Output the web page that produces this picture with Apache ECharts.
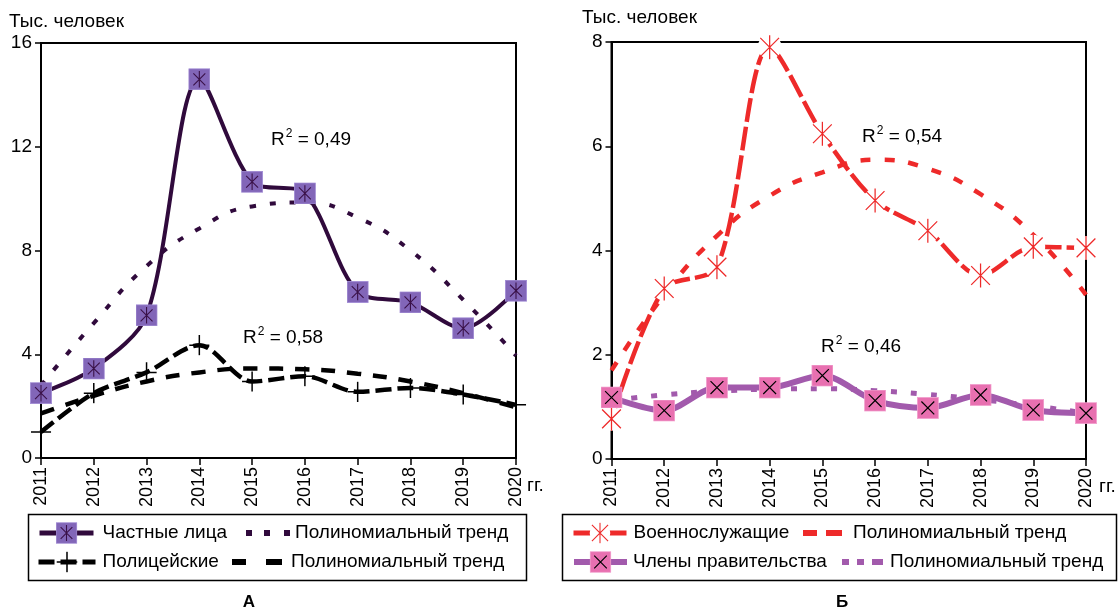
<!DOCTYPE html>
<html><head><meta charset="utf-8">
<script src="https://cdn.jsdelivr.net/npm/echarts@6/dist/echarts.min.js"></script>
<style>html,body{margin:0;padding:0;background:#fff}#c{width:1120px;height:610px}</style>
</head><body><div id="c"></div>
<script>
// ---- data ----
const years = ['2011','2012','2013','2014','2015','2016','2017','2018','2019','2020'];
const privatePersons = [2.5, 3.45, 5.5, 14.6, 10.65, 10.2, 6.4, 6.0, 5.0, 6.45];
const privateTrend   = [2.8, 5.2, 7.4, 8.85, 9.7, 9.85, 9.27, 8.0, 6.1, 3.95];
const police         = [1.0, 2.5, 3.3, 4.35, 2.95, 3.15, 2.55, 2.7, 2.45, 2.05];
const policeTrend    = [1.72, 2.4, 2.95, 3.3, 3.45, 3.42, 3.25, 2.95, 2.5, 1.95];
const military       = [0.77, 3.27, 3.68, 7.9, 6.24, 4.96, 4.38, 3.52, 4.07, 4.05];
const militaryTrend  = [1.7, 3.15, 4.28, 5.05, 5.5, 5.74, 5.57, 5.08, 4.3, 3.15];
const officials      = [1.18, 0.93, 1.37, 1.37, 1.6, 1.12, 0.98, 1.23, 0.94, 0.88];
const officialsTrend = [1.12, 1.23, 1.3, 1.34, 1.35, 1.31, 1.24, 1.14, 1.02, 0.88];
const r2Labels = ['0,49', '0,58', '0,54', '0,46'];

const FONT = "'Liberation Sans', Arial, sans-serif";
const TREND = 'Полиномиальный тренд';

function svgSym(body) {
  return 'image://data:image/svg+xml;charset=utf-8,' + encodeURIComponent(
    "<svg xmlns='http://www.w3.org/2000/svg' width='48' height='48' viewBox='0 0 24 24'>" + body + "</svg>");
}
const symPrivate = svgSym("<rect x='0.5' y='0.5' width='23' height='23' fill='#8266b8' stroke='#a38ed6' stroke-width='1'/><path d='M12 3V21M5.5 5.5L18.5 18.5M18.5 5.5L5.5 18.5' stroke='#3a1148' stroke-width='1.2' fill='none'/>");
const symPolice = svgSym("<path d='M12 0.5V23.5M0.5 12H23.5' stroke='#000' stroke-width='1.7' fill='none'/>");
const symMilitary = svgSym("<circle cx='12' cy='12' r='11.5' fill='#fff'/><path d='M12 0.5V23.5M3 3L21 21M21 3L3 21' stroke='#ee2a2a' stroke-width='1.2' fill='none'/>");
const symOfficials = svgSym("<rect x='0.5' y='0.5' width='23' height='23' fill='#e870b0' stroke='#f2a2cf' stroke-width='1'/><path d='M5 5L19 19M19 5L5 19' stroke='#000' stroke-width='1.3' fill='none'/>");

const chart = echarts.init(document.getElementById('c'), null, {renderer: 'canvas'});

function xAx(gi) {
  return {
    type: 'category', gridIndex: gi, data: years, boundaryGap: false,
    axisLine: {show: true, lineStyle: {color: '#000', width: 2}},
    axisTick: {show: true, length: 7, lineStyle: {color: '#000', width: 1.5}},
    axisLabel: {rotate: 90, fontSize: 18, fontFamily: FONT, color: '#000', margin: 9},
    splitLine: {show: false}
  };
}
function yAx(gi, max, interval) {
  return {
    type: 'value', gridIndex: gi, min: 0, max: max, interval: interval,
    axisLine: {show: true, lineStyle: {color: '#000', width: 2}},
    axisTick: {show: true, length: 6, lineStyle: {color: '#000', width: 1.5}},
    axisLabel: {fontSize: 19, fontFamily: FONT, color: '#000', margin: 9},
    splitLine: {show: false}
  };
}
function lineSeries(name, gi, data, color, width, dash, smooth, symbol, size, z) {
  return {
    name: name, type: 'line', xAxisIndex: gi, yAxisIndex: gi, data: data,
    smooth: smooth, symbol: symbol || 'none', symbolSize: size || 0,
    showSymbol: !!symbol, z: z,
    lineStyle: {color: color, width: width, type: dash, cap: 'butt'},
    itemStyle: {color: color, borderWidth: 0},
    emphasis: {disabled: true}, animation: false
  };
}
function legend(name, left, top, w, pad, lw, icon) {
  const d = {name: name};
  if (icon) d.icon = icon;
  return {
    data: [d], left: left, top: top, orient: 'horizontal', padding: 0,
    itemWidth: w, itemHeight: 27, selectedMode: false, symbolKeepAspect: true,
    itemStyle: {borderWidth: 0},
    lineStyle: {width: lw, type: 'inherit', cap: 'butt'},
    formatter: n => n.indexOf(TREND) === 0 ? TREND : n,
    textStyle: {fontSize: 19, fontFamily: FONT, color: '#000', lineHeight: 27, padding: [0, 0, 0, pad]}
  };
}
function r2(left, cy, val) {
  return {
    type: 'text', left: left, top: cy - 12,
    style: {
      text: '{a|R}{s|2}{a| = ' + val + '}',
      rich: {
        a: {fontSize: 19, fontFamily: FONT, fill: '#000', lineHeight: 24},
        s: {fontSize: 12, fontFamily: FONT, fill: '#000', lineHeight: 19, verticalAlign: 'top', padding: [0, 0, 0, 1]}
      }
    }
  };
}
function txt(x, y, text, opts) {
  return Object.assign({type: 'text', x: x, y: y,
    style: Object.assign({text: text, fontSize: 19, fontFamily: FONT, fill: '#000', verticalAlign: 'middle', align: 'left'}, opts || {})});
}

const option = {
  animation: false,
  backgroundColor: '#fff',
  grid: [
    {left: 41, top: 43, width: 475, height: 415, show: true, borderColor: '#000', borderWidth: 2, backgroundColor: 'transparent'},
    {left: 611.5, top: 42, width: 474.5, height: 417, show: true, borderColor: '#000', borderWidth: 2, backgroundColor: 'transparent'}
  ],
  xAxis: [xAx(0), xAx(1)],
  yAxis: [yAx(0, 16, 4), yAx(1, 8, 2)],
  legend: [
    legend('Частные лица', 37, 519.5, 54, 4, 5),
    legend(TREND + ' · Частные лица', 246, 519.5, 44, 0, 5, 'path://M0 0h6v6H0z M18 0h6v6h-6z M38 0h6v6h-6z'),
    legend('Полицейские', 36, 548.5, 57, 2, 5),
    legend(TREND + ' · Полицейские', 232, 548.5, 50, 4, 5, 'path://M0 0h14v6H0z M34 0h16v6h-16z'),
    legend('Военнослужащие', 571, 519.5, 53, 2, 5),
    legend(TREND + ' · Военнослужащие', 803, 519.5, 39, 6, 5, 'path://M0 0h14v6H0z M23 0h16v6h-16z'),
    legend('Члены правительства', 571, 548.5, 53, 1, 6),
    legend(TREND + ' · Члены правительства', 842, 548.5, 41, 2, 5, 'path://M0 0h7v6H0z M15 0h7v6h-7z M30 0h11v6h-11z')
  ],
  series: [
    lineSeries(TREND + ' · Частные лица', 0, privateTrend, '#300a3c', 4, [6, 14], true, null, 0, 2),
    lineSeries(TREND + ' · Полицейские', 0, policeTrend, '#000', 4.5, [14, 12], true, null, 0, 2),
    lineSeries('Полицейские', 0, police, '#000', 4.5, [16, 6], 0.3, symPolice, 21, 3),
    lineSeries('Частные лица', 0, privatePersons, '#300a3c', 4, 'solid', 0.3, symPrivate, 22, 4),
    lineSeries(TREND + ' · Военнослужащие', 1, militaryTrend, '#ee2a2a', 4.5, [10, 14], true, null, 0, 2),
    lineSeries(TREND + ' · Члены правительства', 1, officialsTrend, '#a25aac', 5, [6, 14], true, null, 0, 2),
    lineSeries('Военнослужащие', 1, military, '#ee2a2a', 4.5, [24, 5], 0.3, symMilitary, 25, 3),
    lineSeries('Члены правительства', 1, officials, '#a25aac', 6, 'solid', 0.3, symOfficials, 22, 4)
  ],
  graphic: [
    txt(9, 22, 'Тыс. человек'),
    txt(582, 18, 'Тыс. человек'),
    txt(527, 486, 'гг.'),
    txt(1099, 487, 'гг.'),
    r2(271, 140, r2Labels[0]),
    r2(243, 338, r2Labels[1]),
    r2(862, 137, r2Labels[2]),
    r2(821, 347, r2Labels[3]),
    {type: 'rect', shape: {x: 28.5, y: 514.5, width: 498, height: 66}, style: {fill: 'none', stroke: '#000', lineWidth: 1.5}},
    {type: 'rect', shape: {x: 562.5, y: 514.5, width: 554, height: 66}, style: {fill: 'none', stroke: '#000', lineWidth: 1.5}},
    txt(249, 602, 'А', {fontSize: 17, fontWeight: 'bold', align: 'center'}),
    txt(842, 602, 'Б', {fontSize: 17, fontWeight: 'bold', align: 'center'})
  ]
};
chart.setOption(option);
</script></body></html>
